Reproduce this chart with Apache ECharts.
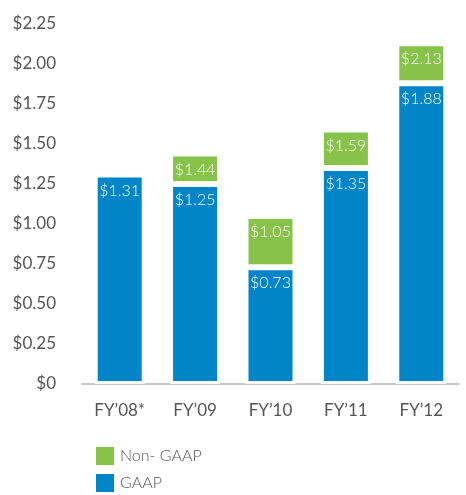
<!DOCTYPE html>
<html>
<head>
<meta charset="utf-8">
<script src="https://cdn.jsdelivr.net/npm/echarts@6/dist/echarts.min.js"></script>
<style>
    html, body { margin: 0; padding: 0; background: #fff; }
    #chart { width: 466px; height: 495px; }
</style>
</head>
<body>
<div id="chart"></div>
<script>
const categories = ['FY\u201908*', 'FY\u201909', 'FY\u201910', 'FY\u201911', 'FY\u201912'];
const gaap = [1.31, 1.25, 0.73, 1.35, 1.88];
const nonGaap = [null, 1.44, 1.05, 1.59, 2.13];

const BLUE = '#0085c9';
const GREEN = '#86c348';
const TEXT_COLOR = '#555555';
const FONT = 'Lato, "Open Sans", sans-serif';

/* Green part sits on top of GAAP, label shows the Non-GAAP total. */
const nonGaapExtra = nonGaap.map(function (v, i) {
    return v === null ? null : +(v - gaap[i]).toFixed(2);
});

let chart = echarts.init(document.getElementById('chart'));

let barLabel = {
    show: true,
    position: 'insideTop',
    distance: 8,
    color: '#ffffff',
    fontSize: 16,
    fontWeight: 300,
    fontFamily: FONT
};

/* One legend per row, stacked like the original. */
function legendRow(name, top) {
    return {
        left: 94,
        top: top,
        padding: 0,
        itemWidth: 20,
        itemHeight: 20,
        icon: 'rect',
        data: [name],
        textStyle: { color: TEXT_COLOR, fontSize: 16, fontWeight: 300, fontFamily: FONT }
    };
}

let option = {
    animation: false,
    textStyle: { fontFamily: FONT },
    grid: { left: 82, right: 7, top: 24, bottom: 111 },
    legend: [
        legendRow('Non- GAAP', 445),
        legendRow('GAAP', 472)
    ],
    xAxis: {
        type: 'category',
        data: categories,
        offset: 3,
        axisLine: { lineStyle: { color: '#b5b5b5', width: 1.5 } },
        axisTick: { show: false },
        axisLabel: { color: TEXT_COLOR, fontSize: 17, margin: 15, fontFamily: FONT }
    },
    yAxis: {
        type: 'value',
        min: 0,
        max: 2.25,
        interval: 0.25,
        splitLine: { show: false },
        axisLine: { show: false },
        axisTick: { show: false },
        axisLabel: {
            color: TEXT_COLOR,
            fontSize: 17,
            margin: 26,
            fontFamily: FONT,
            padding: [0, 0, 10, 0],
            formatter: function (v) {
                return v === 0 ? '$0' : '$' + v.toFixed(2);
            }
        }
    },
    series: [
        {
            name: 'GAAP',
            type: 'bar',
            stack: 'eps',
            barWidth: 50,
            data: gaap,
            itemStyle: { color: BLUE, borderColor: '#ffffff', borderWidth: 3 },
            label: Object.assign({}, barLabel, {
                formatter: function (p) { return '$' + p.value.toFixed(2); }
            })
        },
        {
            name: 'Non- GAAP',
            type: 'bar',
            stack: 'eps',
            barWidth: 50,
            data: nonGaapExtra,
            itemStyle: { color: GREEN, borderColor: '#ffffff', borderWidth: 3 },
            label: Object.assign({}, barLabel, {
                formatter: function (p) { return '$' + nonGaap[p.dataIndex].toFixed(2); }
            })
        }
    ]
};
chart.setOption(option);
</script>
</body>
</html>
